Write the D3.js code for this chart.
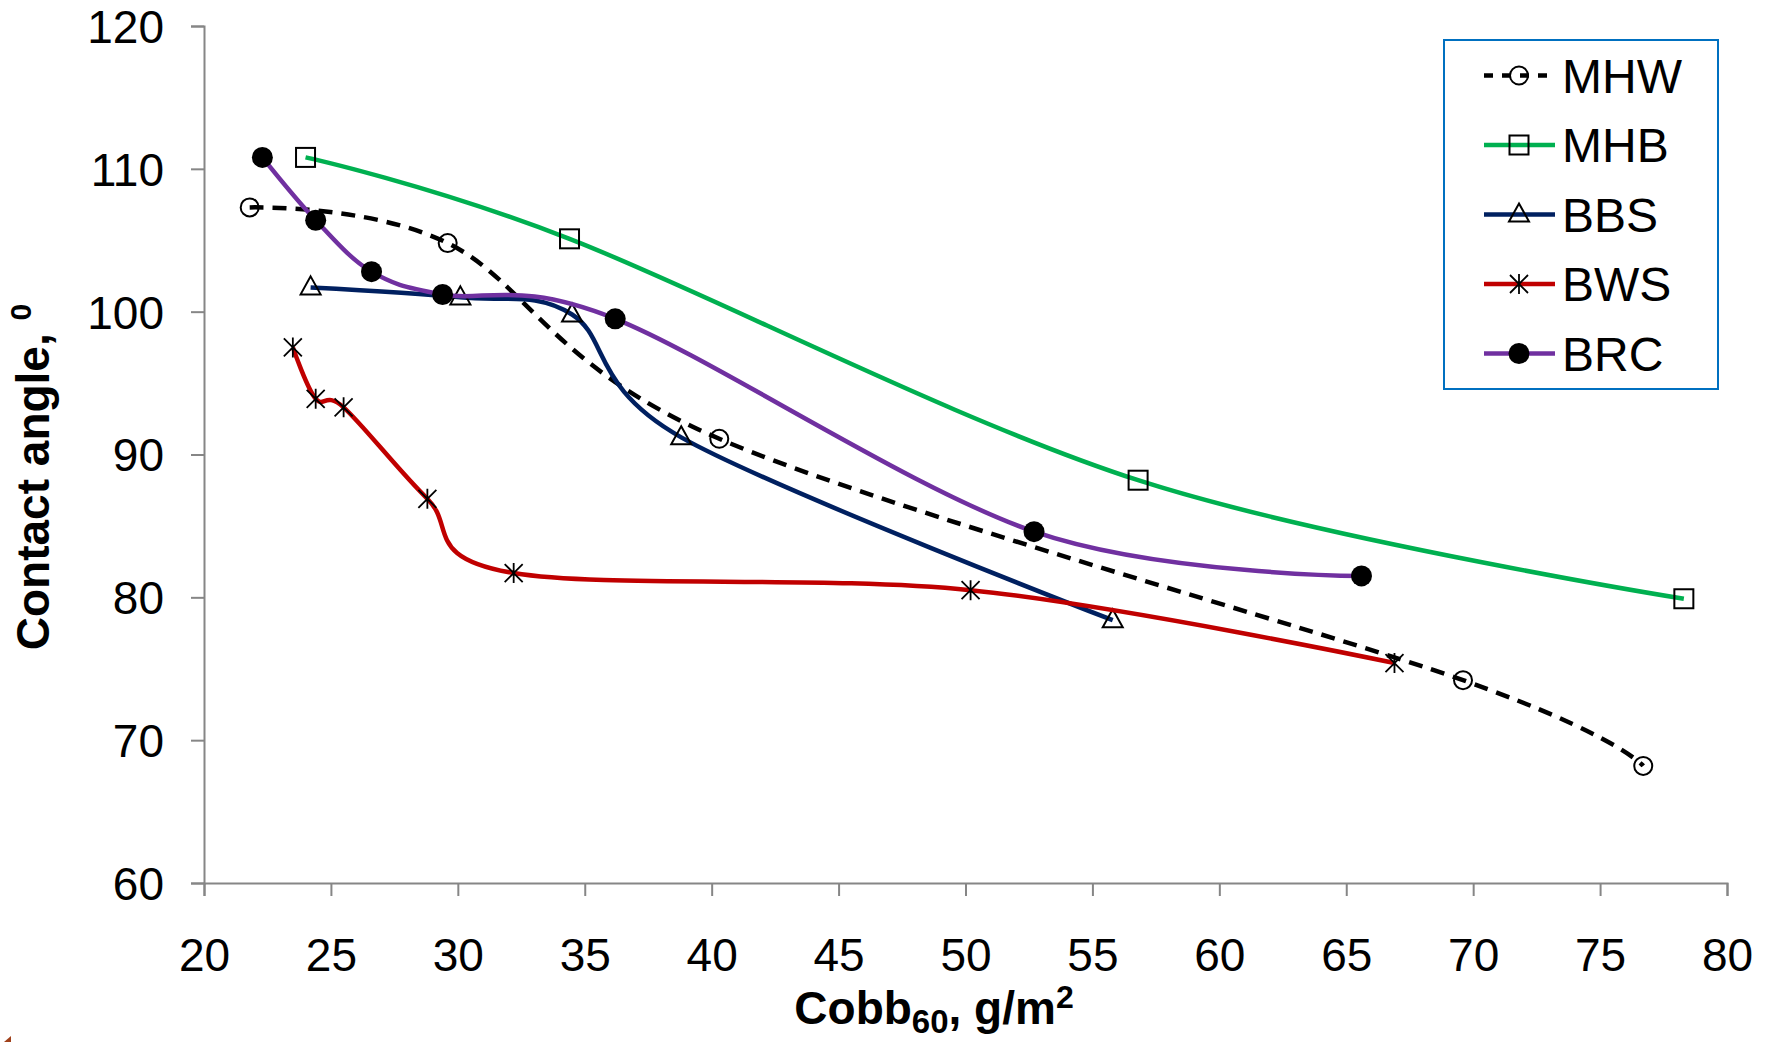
<!DOCTYPE html>
<html>
<head>
<meta charset="utf-8">
<script src="https://cdn.jsdelivr.net/npm/d3@7"></script>
<style>
  html, body { margin: 0; padding: 0; background: #fff; }
  svg { display: block; }
  text { font-family: "Liberation Sans", Arial, sans-serif; fill: #000; }
</style>
</head>
<body>
<svg id="chart" width="1771" height="1042"></svg>
<script>
// ---- data ----
const xTicks = [20, 25, 30, 35, 40, 45, 50, 55, 60, 65, 70, 75, 80];
const yTicks = [60, 70, 80, 90, 100, 110, 120];
const seriesNames = ["MHW", "MHB", "BBS", "BWS", "BRC"];

const mhwX = [21.8, 29.6, 40.3, 69.6, 76.7];
const mhwY = [107.3, 104.8, 91.1, 74.2, 68.2];

const mhbX = [24.0, 34.4, 56.8, 78.3];
const mhbY = [110.8, 105.1, 88.2, 79.9];

const bbsX = [24.2, 30.1, 34.5, 38.8, 55.8];
const bbsY = [101.7, 101.0, 99.8, 91.2, 78.4];

const bwsX = [23.5, 24.4, 25.5, 28.8, 32.2, 50.2, 66.9];
const bwsY = [97.5, 93.9, 93.3, 86.9, 81.7, 80.5, 75.4];

const brcX = [22.3, 24.4, 26.6, 29.4, 36.2, 52.7, 65.6];
const brcY = [110.8, 106.4, 102.8, 101.2, 99.5, 84.6, 81.5];

// ---- layout ----
const svg = d3.select("#chart");
const x = d3.scaleLinear().domain([20, 80]).range([204, 1727]);
const y = d3.scaleLinear().domain([60, 120]).range([883, 26]);

const axisColor = "#868686";

// axes
const gx = svg.append("g").attr("transform", "translate(0,883)")
  .call(d3.axisBottom(x).tickValues(xTicks).tickSize(13).tickPadding(40).tickFormat(d3.format("d")));
const gy = svg.append("g").attr("transform", "translate(204,0)")
  .call(d3.axisLeft(y).tickValues(yTicks).tickSize(13).tickPadding(27).tickFormat(d3.format("d")));
[gx, gy].forEach(g => {
  g.select(".domain").attr("stroke", axisColor).attr("stroke-width", 2);
  g.selectAll(".tick line").attr("stroke", axisColor).attr("stroke-width", 2);
  g.selectAll(".tick text").attr("font-size", 46).attr("font-family", "Liberation Sans, Arial, sans-serif").attr("fill", "#000");
});
gx.selectAll(".tick text").attr("dy", null).attr("y", null).attr("transform", "translate(0,88)")
  .attr("dominant-baseline", "auto");
gy.selectAll(".tick text").attr("dy", "0.358em");

// axis titles
const xt = svg.append("text").attr("x", 934).attr("y", 1024).attr("text-anchor", "middle")
  .attr("font-size", 46).attr("font-weight", "bold");
xt.append("tspan").text("Cobb");
xt.append("tspan").text("60").attr("font-size", 33).attr("dy", 9);
xt.append("tspan").text(", g/m").attr("dy", -9);
xt.append("tspan").text("2").attr("font-size", 32).attr("dy", -16);

const yt = svg.append("text").attr("transform", "translate(49,477) rotate(-90)").attr("text-anchor", "middle")
  .attr("font-size", 46).attr("font-weight", "bold");
yt.append("tspan").text("Contact angle, ");
yt.append("tspan").text("0").attr("font-size", 30).attr("dy", -18);

// series config
const series = [
  { name: "MHW", xs: mhwX, ys: mhwY, color: "#000000", dash: "14,9", marker: "circle" },
  { name: "MHB", xs: mhbX, ys: mhbY, color: "#00B050", dash: null, marker: "square" },
  { name: "BBS", xs: bbsX, ys: bbsY, color: "#002060", dash: null, marker: "triangle" },
  { name: "BWS", xs: bwsX, ys: bwsY, color: "#C00000", dash: null, marker: "star" },
  { name: "BRC", xs: brcX, ys: brcY, color: "#7030A0", dash: null, marker: "dot" }
];

const line = d3.line().x(d => x(d[0])).y(d => y(d[1])).curve(d3.curveCardinal.tension(0));

function drawMarker(g, type, cx, cy) {
  if (type === "circle") {
    g.append("circle").attr("cx", cx).attr("cy", cy).attr("r", 9).attr("fill", "none")
      .attr("stroke", "#000").attr("stroke-width", 2);
  } else if (type === "square") {
    g.append("rect").attr("x", cx - 9.5).attr("y", cy - 9.5).attr("width", 19).attr("height", 19)
      .attr("fill", "none").attr("stroke", "#000").attr("stroke-width", 2);
  } else if (type === "triangle") {
    g.append("path").attr("d", `M${cx},${cy - 11}L${cx + 10},${cy + 7}L${cx - 10},${cy + 7}Z`)
      .attr("fill", "none").attr("stroke", "#000").attr("stroke-width", 2);
  } else if (type === "star") {
    g.append("path").attr("d",
      `M${cx},${cy - 10}L${cx},${cy + 10}M${cx - 9},${cy - 9}L${cx + 9},${cy + 9}M${cx + 9},${cy - 9}L${cx - 9},${cy + 9}`)
      .attr("fill", "none").attr("stroke", "#000").attr("stroke-width", 1.8);
  } else if (type === "dot") {
    g.append("circle").attr("cx", cx).attr("cy", cy).attr("r", 10.5).attr("fill", "#000");
  }
}

series.forEach(s => {
  const pts = s.xs.map((v, i) => [v, s.ys[i]]);
  const g = svg.append("g");
  g.append("path").attr("d", line(pts)).attr("fill", "none").attr("stroke", s.color)
    .attr("stroke-width", 4.5).attr("stroke-dasharray", s.dash);
  pts.forEach(p => drawMarker(g, s.marker, x(p[0]), y(p[1])));
});

// legend
const lg = svg.append("g");
lg.append("rect").attr("x", 1444).attr("y", 40).attr("width", 274).attr("height", 349)
  .attr("fill", "#fff").attr("stroke", "#0070C0").attr("stroke-width", 2);
series.forEach((s, i) => {
  const cy = 75.5 + i * 69.5;
  lg.append("line").attr("x1", 1484).attr("x2", 1555).attr("y1", cy).attr("y2", cy)
    .attr("stroke", s.color).attr("stroke-width", 4.5).attr("stroke-dasharray", s.dash ? "9,9" : null);
  drawMarker(lg, s.marker, 1519, cy);
  lg.append("text").attr("x", 1562).attr("y", cy).attr("dy", "0.358em").attr("font-size", 48).text(s.name);
});

// small corner artifact
svg.append("path").attr("d", "M4,1042L11,1036L11,1042Z").attr("fill", "#A0401A");
</script>
</body>
</html>
